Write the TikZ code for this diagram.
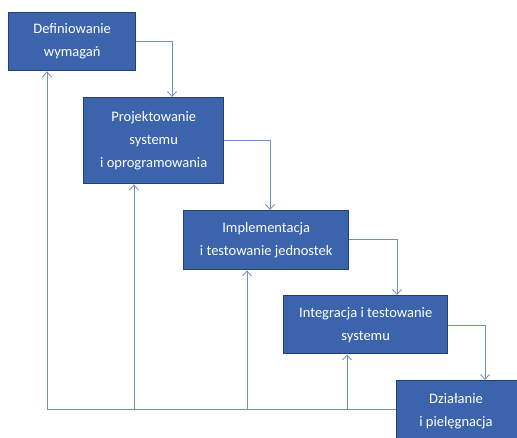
\documentclass[tikz,border=0pt]{standalone}
\usepackage{fontspec}
\setmainfont{Carlito}
\usetikzlibrary{arrows.meta}
\definecolor{boxfill}{HTML}{3B64AD}
\definecolor{boxline}{HTML}{233F73}
\definecolor{conn}{HTML}{7290C4}
\tikzset{
  stage/.style={draw=boxline, line width=1.4pt, fill=boxfill, text=white, align=center,
    font=\fontsize{14.5pt}{23pt}\selectfont, inner sep=0pt, anchor=north west},
  flow/.style={draw=conn, line width=0.8pt, -{Straight Barb[length=5pt,width=9pt]}},
  back/.style={draw=conn, line width=0.8pt},
}
\begin{document}
\begin{tikzpicture}[x=1pt,y=-1pt]
\clip (0,0) rectangle (517,437);
\useasboundingbox (0,0) rectangle (517,437);
\fill[white] (0,0) rectangle (517,437);
\node[stage, minimum width=127pt, minimum height=58pt] (s1) at (8,12) {Definiowanie\\wymagań};
\node[stage, minimum width=140pt, minimum height=86pt] (s2) at (83,97) {Projektowanie\\systemu\\i oprogramowania};
\node[stage, minimum width=165pt, minimum height=59pt] (s3) at (183,210) {Implementacja\\i testowanie jednostek};
\node[stage, minimum width=164pt, minimum height=58pt] (s4) at (283,295) {Integracja i testowanie\\systemu};
\node[stage, minimum width=130pt, minimum height=64pt] (s5) at (396,380) {};
\node[text=white, font=\fontsize{14.5pt}{23pt}\selectfont, align=center] (s5t) at (456,411) {Działanie\\i pielęgnacja};
% forward flow
\coordinate (c1) at (172,41);
\coordinate (c2) at (270,140);
\coordinate (c3) at (397,239);
\coordinate (c4) at (485,325);
\draw[flow] (s1.east |- c1) -- (c1) -- (c1 |- s2.north);
\draw[flow] (s2.east |- c2) -- (c2) -- (c2 |- s3.north);
\draw[flow] (s3.east |- c3) -- (c3) -- (c3 |- s4.north);
\draw[flow] (s4.east |- c4) -- (c4) -- (c4 |- s5.north);
% feedback
\coordinate (b0) at (47,409);
\coordinate (b1) at (134,409);
\coordinate (b2) at (247,409);
\coordinate (b3) at (347,409);
\draw[back] (s5.west |- b0) -- (b0);
\draw[flow] (b0) -- (b0 |- s1.south);
\draw[flow] (b1) -- (b1 |- s2.south);
\draw[flow] (b2) -- (b2 |- s3.south);
\draw[flow] (b3) -- (b3 |- s4.south);
\end{tikzpicture}
\end{document}
